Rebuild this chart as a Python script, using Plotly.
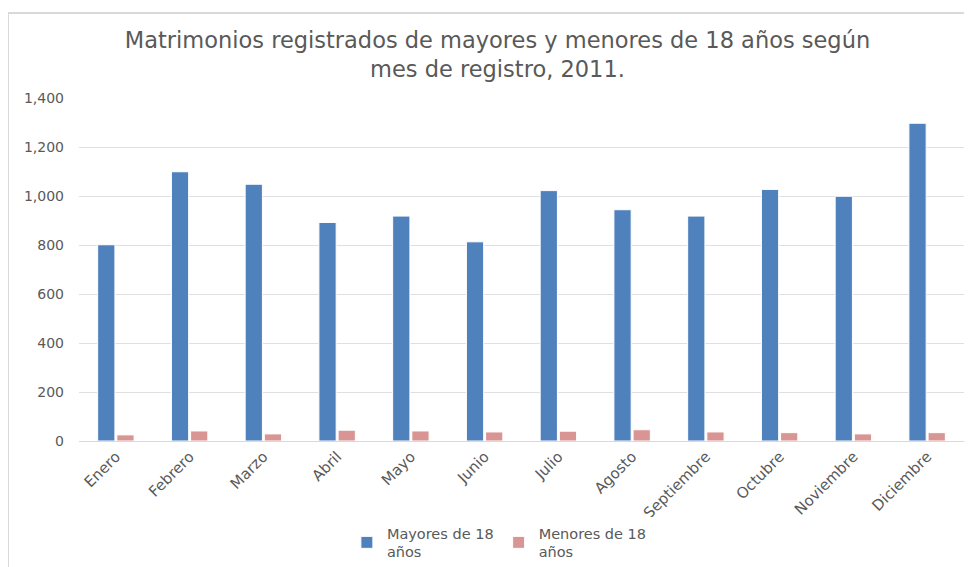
import plotly.graph_objects as go

meses = ["Enero", "Febrero", "Marzo", "Abril", "Mayo", "Junio", "Julio",
         "Agosto", "Septiembre", "Octubre", "Noviembre", "Diciembre"]
mayores = [801, 1099, 1048, 892, 918, 813, 1022, 944, 918, 1027, 999, 1297]
menores = [25, 41, 29, 44, 41, 37, 40, 46, 37, 34, 29, 34]
y_ticks = [0, 200, 400, 600, 800, 1000, 1200, 1400]

FONT = "DejaVu Sans"
GRAY = "#595959"

fig = go.Figure()
fig.add_trace(go.Bar(x=meses, y=mayores, name="Mayores de 18<br>años",
                     marker=dict(color="#4F81BD", line=dict(color="white", width=1))))
fig.add_trace(go.Bar(x=meses, y=menores, name="Menores de 18<br>años",
                     marker=dict(color="#D99594", line=dict(color="white", width=1))))

# the page body has an 8px margin, so the figure is drawn 8px in from the corner
W, H = 964, 559
L, R, T, B = 71, 8, 90, 126
pw, ph = W - L - R, H - T - B

def px_x(p):
    return (p - L) / pw

def px_y(p):
    return (H - B - p) / ph

fig.update_layout(
    width=W, height=H,
    margin=dict(l=L, r=R, t=T, b=B, autoexpand=False),
    paper_bgcolor="white", plot_bgcolor="white",
    barmode="group", bargap=0.48, bargroupgap=0.1,
    title=dict(text="Matrimonios registrados de mayores y menores de 18 años según<br>mes de registro, 2011.",
               x=489.5 / W, xref="container", xanchor="center", y=1 - 40 / H, yanchor="top",
               yref="container", automargin=False,
               font=dict(family=FONT, size=22.5, color=GRAY)),
    font=dict(family=FONT, color=GRAY),
    legend=dict(orientation="h", x=0.475, xanchor="center", y=px_y(509), yanchor="top",
                font=dict(family=FONT, size=14.5, color=GRAY), itemwidth=30,
                traceorder="normal"),
    xaxis=dict(tickangle=-45, tickfont=dict(family=FONT, size=15, color=GRAY),
               showline=True, linecolor="#d9d9d9", linewidth=1, ticks="",
               automargin=False),
    yaxis=dict(range=[0, 1400], tickvals=y_ticks, tickformat=",d",
               tickfont=dict(family=FONT, size=14, color=GRAY),
               gridcolor="#e0e0e0", gridwidth=1, zeroline=False, ticks="",
               ticklabelstandoff=14, automargin=False),
    shapes=[
        dict(type="line", xref="paper", yref="paper", x0=px_x(0), x1=px_x(970),
             y0=px_y(5), y1=px_y(5), line=dict(color="#d9d9d9", width=2)),
        dict(type="line", xref="paper", yref="paper", x0=px_x(0), x1=px_x(0),
             y0=px_y(5), y1=px_y(565), line=dict(color="#d9d9d9", width=2)),
    ],
)

fig.write_html("out.html")
